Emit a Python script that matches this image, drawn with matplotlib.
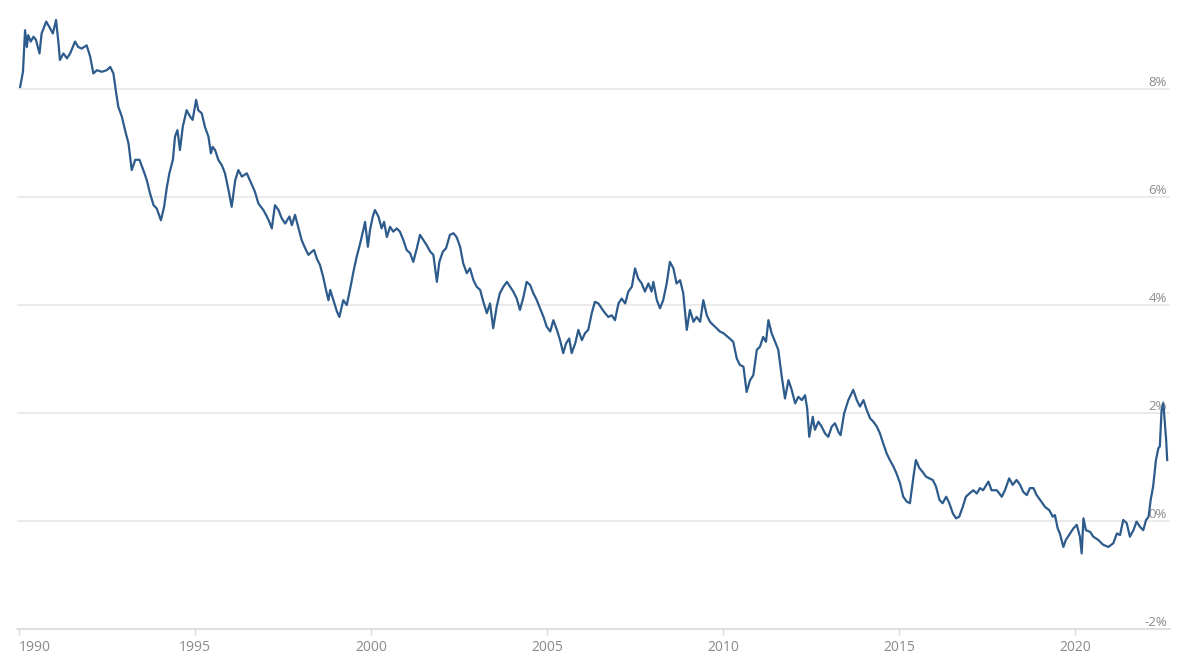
import matplotlib.pyplot as plt
from matplotlib.ticker import FixedLocator

# 10-year government bond yield (%)
years = [
    1990.03, 1990.11, 1990.17, 1990.22, 1990.26, 1990.33, 1990.41, 1990.48, 1990.58, 1990.64,
    1990.77, 1990.86, 1990.96, 1991.05, 1991.12, 1991.16, 1991.26, 1991.36, 1991.45, 1991.59,
    1991.68, 1991.78, 1991.92, 1992.02, 1992.11, 1992.21, 1992.35, 1992.49, 1992.59, 1992.68,
    1992.76, 1992.82, 1992.92, 1993.01, 1993.11, 1993.20, 1993.30, 1993.42, 1993.53, 1993.63,
    1993.72, 1993.82, 1993.91, 1994.03, 1994.12, 1994.20, 1994.27, 1994.37, 1994.43, 1994.50,
    1994.57, 1994.65, 1994.76, 1994.86, 1994.93, 1995.03, 1995.09, 1995.19, 1995.28, 1995.38,
    1995.45, 1995.50, 1995.57, 1995.66, 1995.76, 1995.85, 1995.95, 1996.04, 1996.14, 1996.23,
    1996.33, 1996.47, 1996.70, 1996.80, 1996.94, 1997.04, 1997.11, 1997.18, 1997.27, 1997.37,
    1997.46, 1997.56, 1997.68, 1997.75, 1997.84, 1997.93, 1998.03, 1998.13, 1998.22, 1998.32,
    1998.38, 1998.46, 1998.55, 1998.64, 1998.72, 1998.79, 1998.84, 1998.93, 1999.03, 1999.10,
    1999.21, 1999.31, 1999.40, 1999.50, 1999.59, 1999.69, 1999.78, 1999.83, 1999.91, 1999.97,
    2000.05, 2000.11, 2000.21, 2000.30, 2000.37, 2000.45, 2000.54, 2000.63, 2000.73, 2000.82,
    2000.92, 2001.01, 2001.11, 2001.20, 2001.30, 2001.39, 2001.49, 2001.58, 2001.68, 2001.77,
    2001.87, 2001.94, 2002.04, 2002.13, 2002.24, 2002.34, 2002.43, 2002.53, 2002.62, 2002.72,
    2002.81, 2002.91, 2003.00, 2003.10, 2003.19, 2003.29, 2003.38, 2003.47, 2003.57, 2003.66,
    2003.76, 2003.86, 2003.95, 2004.04, 2004.14, 2004.23, 2004.33, 2004.42, 2004.52, 2004.61,
    2004.71, 2004.80, 2004.90, 2004.99, 2005.09, 2005.18, 2005.28, 2005.37, 2005.46, 2005.54,
    2005.63, 2005.70, 2005.80, 2005.89, 2005.99, 2006.08, 2006.17, 2006.27, 2006.36, 2006.46,
    2006.55, 2006.65, 2006.74, 2006.84, 2006.93, 2007.03, 2007.12, 2007.22, 2007.31, 2007.41,
    2007.50, 2007.59, 2007.69, 2007.78, 2007.88, 2007.97, 2008.02, 2008.12, 2008.21, 2008.30,
    2008.40, 2008.49, 2008.59, 2008.68, 2008.78, 2008.87, 2008.97, 2009.06, 2009.16, 2009.25,
    2009.35, 2009.44, 2009.54, 2009.63, 2009.72, 2009.82, 2009.91, 2010.01, 2010.19, 2010.29,
    2010.39, 2010.48, 2010.58, 2010.67, 2010.77, 2010.86, 2010.96, 2011.05, 2011.14, 2011.22,
    2011.29, 2011.38, 2011.48, 2011.57, 2011.67, 2011.76, 2011.86, 2011.95, 2012.05, 2012.14,
    2012.24, 2012.33, 2012.39, 2012.45, 2012.55, 2012.61, 2012.71, 2012.80, 2012.90, 2012.99,
    2013.09, 2013.18, 2013.28, 2013.34, 2013.44, 2013.56, 2013.70, 2013.80, 2013.89, 2013.99,
    2014.08, 2014.18, 2014.27, 2014.37, 2014.46, 2014.55, 2014.65, 2014.74, 2014.84, 2014.93,
    2015.03, 2015.12, 2015.22, 2015.31, 2015.41, 2015.48, 2015.58, 2015.67, 2015.77, 2015.86,
    2015.96, 2016.05, 2016.15, 2016.24, 2016.34, 2016.43, 2016.53, 2016.62, 2016.71, 2016.81,
    2016.90, 2017.00, 2017.11, 2017.21, 2017.30, 2017.39, 2017.54, 2017.63, 2017.78, 2017.92,
    2018.01, 2018.13, 2018.23, 2018.34, 2018.44, 2018.53, 2018.63, 2018.72, 2018.82, 2018.91,
    2019.01, 2019.15, 2019.27, 2019.37, 2019.43, 2019.51, 2019.57, 2019.67, 2019.74, 2019.86,
    2019.95, 2020.05, 2020.14, 2020.19, 2020.24, 2020.31, 2020.43, 2020.52, 2020.66, 2020.80,
    2020.95, 2021.09, 2021.19, 2021.28, 2021.37, 2021.47, 2021.56, 2021.66, 2021.75, 2021.85,
    2021.94, 2022.02, 2022.09, 2022.15, 2022.22, 2022.30, 2022.37, 2022.41, 2022.46, 2022.51,
    2022.56, 2022.59, 2022.62,
]
yields = [
    8.04, 8.32, 9.09, 8.78, 9.00, 8.88, 8.97, 8.91, 8.66, 9.03,
    9.25, 9.15, 9.03, 9.28, 8.85, 8.54, 8.66, 8.57, 8.66, 8.88,
    8.78, 8.75, 8.81, 8.60, 8.29, 8.35, 8.32, 8.35, 8.41, 8.29,
    7.92, 7.67, 7.49, 7.24, 6.99, 6.50, 6.69, 6.69, 6.50, 6.31,
    6.07, 5.85, 5.79, 5.57, 5.82, 6.19, 6.44, 6.69, 7.12, 7.24,
    6.87, 7.30, 7.61, 7.49, 7.43, 7.80, 7.61, 7.55, 7.30, 7.12,
    6.81, 6.93, 6.87, 6.69, 6.59, 6.44, 6.13, 5.82, 6.31, 6.50,
    6.38, 6.44, 6.10, 5.88, 5.76, 5.64, 5.54, 5.42, 5.85, 5.76,
    5.61, 5.51, 5.64, 5.48, 5.67, 5.45, 5.20, 5.05, 4.93, 4.99,
    5.02, 4.86, 4.74, 4.52, 4.28, 4.09, 4.28, 4.09, 3.88, 3.78,
    4.09, 4.00, 4.28, 4.62, 4.89, 5.14, 5.39, 5.54, 5.08, 5.39,
    5.64, 5.76, 5.64, 5.42, 5.54, 5.26, 5.45, 5.36, 5.42, 5.36,
    5.20, 5.02, 4.96, 4.80, 5.05, 5.30, 5.20, 5.11, 4.99, 4.93,
    4.43, 4.80, 4.99, 5.05, 5.30, 5.33, 5.26, 5.08, 4.77, 4.59,
    4.68, 4.46, 4.34, 4.28, 4.06, 3.85, 4.03, 3.57, 3.97, 4.22,
    4.34, 4.43, 4.34, 4.25, 4.12, 3.91, 4.15, 4.43, 4.37, 4.22,
    4.09, 3.94, 3.78, 3.60, 3.51, 3.72, 3.54, 3.35, 3.11, 3.29,
    3.38, 3.11, 3.29, 3.54, 3.35, 3.48, 3.54, 3.85, 4.06, 4.03,
    3.94, 3.85, 3.78, 3.81, 3.72, 4.03, 4.12, 4.03, 4.25, 4.34,
    4.68, 4.49, 4.40, 4.25, 4.40, 4.25, 4.43, 4.09, 3.94, 4.09,
    4.40, 4.80, 4.68, 4.40, 4.46, 4.22, 3.54, 3.91, 3.69, 3.78,
    3.69, 4.09, 3.81, 3.69, 3.63, 3.57, 3.51, 3.48, 3.38, 3.32,
    3.01, 2.89, 2.86, 2.39, 2.61, 2.70, 3.17, 3.23, 3.41, 3.32,
    3.72, 3.48, 3.32, 3.17, 2.67, 2.27, 2.61, 2.43, 2.18, 2.30,
    2.24, 2.33, 2.09, 1.56, 1.93, 1.69, 1.84, 1.75, 1.62, 1.56,
    1.75, 1.81, 1.65, 1.59, 1.99, 2.24, 2.43, 2.24, 2.12, 2.24,
    2.06, 1.90, 1.84, 1.75, 1.62, 1.44, 1.25, 1.13, 1.01, 0.88,
    0.70, 0.45, 0.36, 0.33, 0.82, 1.13, 0.98, 0.91, 0.82, 0.79,
    0.76, 0.64, 0.39, 0.33, 0.45, 0.33, 0.14, 0.05, 0.08, 0.26,
    0.45, 0.51, 0.57, 0.51, 0.61, 0.57, 0.73, 0.57, 0.57, 0.45,
    0.57, 0.79, 0.67, 0.76, 0.67, 0.54, 0.48, 0.61, 0.61, 0.48,
    0.39, 0.26, 0.20, 0.08, 0.11, -0.14, -0.23, -0.48, -0.35, -0.23,
    -0.14, -0.07, -0.29, -0.60, 0.05, -0.17, -0.20, -0.29, -0.35, -0.44,
    -0.48, -0.41, -0.23, -0.26, 0.02, -0.04, -0.29, -0.17, -0.01, -0.11,
    -0.17, 0.02, 0.08, 0.39, 0.64, 1.13, 1.35, 1.38, 2.06, 2.18,
    1.75, 1.50, 1.13,
]

x_ticks = [1990, 1995, 2000, 2005, 2010, 2015, 2020]
y_ticks = [-2, 0, 2, 4, 6, 8]
y_labels = [f"{v}%" for v in y_ticks]

LINE_COLOR = '#2d5b8c'
GRID_COLOR = '#e8e8e8'
TEXT_COLOR = '#8a8a8a'

fig = plt.figure(figsize=(11.87, 6.57), dpi=100)
ax = fig.add_axes([0.0143, 0.0426, 0.9714, 0.9574])

ax.plot(years, yields, color=LINE_COLOR, linewidth=1.6, solid_joinstyle='round', zorder=3)

ax.set_xlim(1989.94, 2022.70)
ax.set_ylim(-2, 9.65)

for s in ['top', 'left', 'right']:
    ax.spines[s].set_visible(False)
ax.spines['bottom'].set_color('#dcdcdc')
ax.spines['bottom'].set_linewidth(1.2)

ax.yaxis.set_major_locator(FixedLocator(y_ticks))
ax.grid(axis='y', color=GRID_COLOR, linewidth=1.2, zorder=0)
ax.set_axisbelow(True)

ax.yaxis.tick_right()
ax.set_yticks(y_ticks)
ax.set_yticklabels(y_labels)
ax.tick_params(axis='y', length=0, pad=-2, labelsize=9.5, labelcolor=TEXT_COLOR)
for lab in ax.get_yticklabels():
    lab.set_horizontalalignment('right')
    lab.set_verticalalignment('bottom')
    lab.set_fontfamily('Open Sans')

ax.set_xticks(x_ticks)
ax.set_xticklabels([str(y) for y in x_ticks])
ax.tick_params(axis='x', length=4, width=1, color='#d8d8d8', pad=4,
               labelsize=10, labelcolor=TEXT_COLOR)
for i, lab in enumerate(ax.get_xticklabels()):
    lab.set_fontfamily('Open Sans')
    if i == 0:
        lab.set_horizontalalignment('left')

fig.savefig('out.png', dpi=100)
